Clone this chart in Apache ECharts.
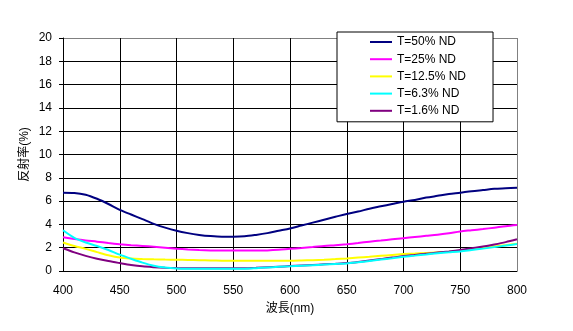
<!DOCTYPE html>
<html>
<head>
<meta charset="utf-8">
<script src="https://cdn.jsdelivr.net/npm/echarts@6/dist/echarts.min.js"></script>
<style>
  html, body { margin: 0; padding: 0; background: #fff; }
  #chart { width: 573px; height: 331px; }
</style>
</head>
<body>
<div id="chart"></div>
<script>
// Wavelength grid (nm)
var wavelengths = [400,410,420,430,440,450,460,470,480,490,500,510,520,530,540,550,560,570,580,590,600,
                   610,620,630,640,650,660,670,680,690,700,710,720,730,740,750,760,770,780,790,800];

// Reflectance (%) per ND filter transmittance
var t50 = [6.72,6.70,6.55,6.20,5.75,5.25,4.85,4.45,4.05,3.72,3.45,3.25,3.10,3.00,2.95,2.95,2.98,3.10,3.25,3.45,3.65,
           3.90,4.15,4.40,4.65,4.90,5.10,5.35,5.55,5.75,5.95,6.10,6.30,6.45,6.60,6.72,6.85,6.95,7.05,7.10,7.15];
var t25 = [2.90,2.75,2.62,2.52,2.40,2.30,2.22,2.15,2.08,2.00,1.92,1.85,1.80,1.77,1.75,1.75,1.75,1.75,1.77,1.82,1.90,
           1.97,2.05,2.15,2.22,2.30,2.40,2.52,2.62,2.72,2.82,2.92,3.02,3.12,3.25,3.40,3.50,3.60,3.72,3.85,3.95];
var t125 = [2.45,2.15,1.90,1.62,1.35,1.15,1.07,1.03,1.00,0.98,0.97,0.95,0.93,0.90,0.89,0.88,0.88,0.88,0.88,0.88,0.88,
            0.90,0.93,0.97,1.02,1.08,1.15,1.22,1.30,1.38,1.45,1.50,1.55,1.60,1.66,1.74,1.86,1.98,2.10,2.22,2.34];
var t63 = [3.50,2.85,2.45,2.15,1.80,1.40,1.05,0.72,0.45,0.30,0.22,0.20,0.20,0.20,0.20,0.20,0.20,0.24,0.30,0.36,0.40,
           0.45,0.50,0.55,0.60,0.65,0.75,0.86,0.98,1.10,1.22,1.32,1.42,1.52,1.60,1.68,1.80,1.92,2.05,2.18,2.32];
var t16 = [1.95,1.60,1.30,1.05,0.85,0.68,0.52,0.40,0.33,0.28,0.25,0.23,0.23,0.23,0.23,0.23,0.23,0.27,0.32,0.37,0.42,
           0.47,0.52,0.57,0.62,0.68,0.78,0.90,1.02,1.15,1.28,1.38,1.48,1.58,1.68,1.80,1.95,2.10,2.28,2.48,2.72];

var seriesNames = ['T=50% ND', 'T=25% ND', 'T=12.5% ND', 'T=6.3% ND', 'T=1.6% ND'];
var seriesColors = ['#000080', '#ff00ff', '#ffff00', '#00ffff', '#800080'];
var seriesData = [t50, t25, t125, t63, t16];
// drawing order (later on top)
var drawOrder = [0, 1, 2, 4, 3];

function pairs(ys) {
  return wavelengths.map(function (w, i) { return [w, ys[i]]; });
}

var FONT = '"Liberation Sans", Arial, "Noto Sans CJK JP", sans-serif';
var chart = echarts.init(document.getElementById('chart'), null, { renderer: 'canvas' });

// plot frame: top and right edges grey, inner grid black
var yGridColors = [];
for (var i = 0; i < 10; i++) yGridColors.push('#000');
yGridColors.push('#808080');
var xGridColors = [];
for (var j = 0; j < 8; j++) xGridColors.push('#000');
xGridColors.push('#808080');

chart.setOption({
  animation: false,
  backgroundColor: '#fff',
  textStyle: { fontFamily: FONT },
  grid: { left: 63, right: 56, top: 38, bottom: 60, containLabel: false },
  legend: {
    orient: 'vertical',
    left: 337,
    top: 32,
    data: seriesNames,
    icon: 'rect',
    itemWidth: 22,
    itemHeight: 2,
    itemGap: 3.2,
    padding: [3, 27, 4, 33],
    backgroundColor: '#fff',
    borderColor: '#000',
    borderWidth: 1,
    borderRadius: 0,
    textStyle: { fontFamily: FONT, fontSize: 12, color: '#000', lineHeight: 14 }
  },
  xAxis: {
    type: 'value',
    min: 400, max: 800, interval: 50,
    name: '波長(nm)',
    nameLocation: 'middle',
    nameGap: 32,
    nameMoveOverlap: false,
    nameTextStyle: { fontFamily: FONT, fontSize: 12, color: '#000' },
    axisLine: { show: true, lineStyle: { color: '#000', width: 1 } },
    axisTick: { show: false },
    axisLabel: { color: '#000', fontSize: 12, margin: 14, fontFamily: FONT },
    splitLine: { show: true, lineStyle: { color: xGridColors, width: 1 } }
  },
  yAxis: {
    type: 'value',
    min: 0, max: 20, interval: 2,
    name: '反射率(%)',
    nameLocation: 'middle',
    nameGap: 32,
    nameRotate: 90,
    nameMoveOverlap: false,
    nameTextStyle: { fontFamily: FONT, fontSize: 12, color: '#000' },
    axisLine: { show: true, lineStyle: { color: '#000', width: 1 } },
    axisTick: { show: true, length: 4, inside: false, lineStyle: { color: '#000' } },
    axisLabel: { color: '#000', fontSize: 12, margin: 11, fontFamily: FONT },
    splitLine: { show: true, lineStyle: { color: yGridColors, width: 1 } }
  },
  series: drawOrder.map(function (k) {
    return {
      name: seriesNames[k],
      type: 'line',
      data: pairs(seriesData[k]),
      smooth: 0.3,
      showSymbol: false,
      symbol: 'none',
      color: seriesColors[k],
      lineStyle: { color: seriesColors[k], width: 2 },
      emphasis: { disabled: true }
    };
  })
});
</script>
</body>
</html>
